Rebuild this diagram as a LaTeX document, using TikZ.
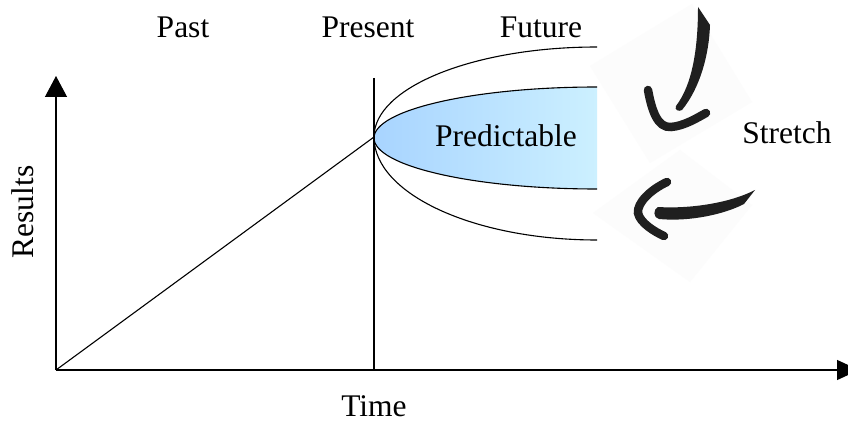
\documentclass[tikz,border=0pt]{standalone}
\usepackage{fontspec}
\setmainfont{Liberation Serif}
\usetikzlibrary{arrows.meta}
\definecolor{predL}{RGB}{168,212,255}
\definecolor{predR}{RGB}{204,240,255}
\definecolor{paper}{RGB}{252,252,252}
\tikzset{
  lbl/.style={font=\fontsize{31.5}{36}\selectfont, inner sep=0pt, anchor=base},
  axisline/.style={line width=1.3pt},
  thinline/.style={line width=1.1pt},
  brush/.style={fill=black!88, draw=none},
  brushstroke/.style={draw=black!88, line cap=round, line width=8.5pt}
}
\begin{document}
\begin{tikzpicture}[x=1pt,y=-1pt]
\clip (0,0) rectangle (848,422);
\fill[white] (0,0) rectangle (848,422);
% named points
\coordinate (O) at (56,370);
\coordinate (ytop) at (56,76);
\coordinate (xend) at (859,370);
\coordinate (ptop) at (374,78);
\coordinate (pbot) at (374,370);
\coordinate (V) at (374,137);
% faint paper squares behind the brush arrows
\fill[paper] (590,66) -- (692,4) -- (752,102) -- (650,163) -- cycle;
\fill[paper] (593,213) -- (680,150) -- (752,205) -- (690,282) -- cycle;
% ellipses
\shade[left color=predL, right color=predR] (597,87) arc[start angle=270, end angle=90, x radius=223, y radius=51] -- cycle;
\draw[thinline] (597,87) arc[start angle=270, end angle=90, x radius=223, y radius=51];
\draw[thinline] (597,47) arc[start angle=270, end angle=180, x radius=223, y radius=90]
                arc[start angle=180, end angle=90, x radius=223, y radius=103];
% axes and lines
\draw[axisline, -{Triangle[width=22pt,length=21pt]}] (O) -- (ytop);
\draw[axisline, -{Triangle[width=20pt,length=22pt]}] (O) -- (xend);
\draw[thinline] (ptop) -- (pbot);
\draw[thinline] (O) -- (V);
% labels
\node[lbl] (past) at (183,38) {Past};
\node[lbl] (present) at (368,38) {Present};
\node[lbl] (future) at (541,38) {Future};
\node[lbl] (pred) at (506,147) {Predictable};
\node[lbl] (stretch) at (787,144) {Stretch};
\node[lbl] (time) at (374,416) {Time};
\node[lbl, rotate=90] (results) at (33,212) {Results};
% upper brush arrow
\fill[brush] (698,7) .. controls (698,50) and (692,85) .. (676,106)
   .. controls (674,110) and (679,112) .. (682,110)
   .. controls (700,88) and (709,55) .. (710,25) -- cycle;
\draw[brushstroke] (648,90) .. controls (652,112) and (658,128) .. (671,127)
   .. controls (684,126) and (697,118) .. (706,113);
% lower brush arrow
\fill[brush] (755,190) .. controls (730,203) and (690,209) .. (658,207)
   .. controls (653,209) and (653,218) .. (659,219)
   .. controls (690,222) and (725,214) .. (744,204) -- cycle;
\draw[brushstroke] (667,182) .. controls (650,190) and (637,203) .. (638,213)
   .. controls (640,223) and (655,232) .. (664,236);
\end{tikzpicture}
\end{document}
